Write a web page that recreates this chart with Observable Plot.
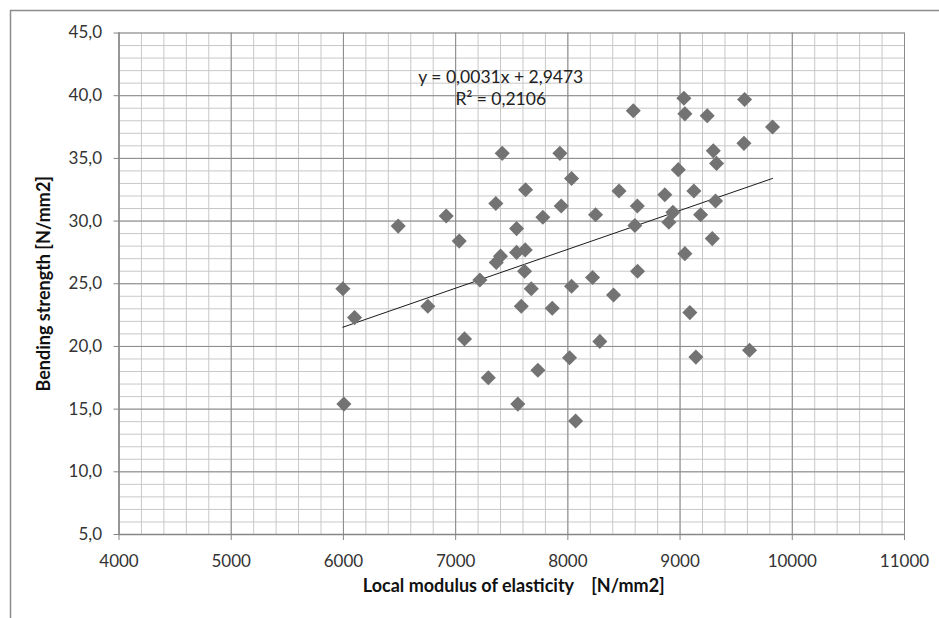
<!DOCTYPE html>
<html>
<head>
<meta charset="utf-8">
<script src="https://cdn.jsdelivr.net/npm/d3@7"></script>
<script src="https://cdn.jsdelivr.net/npm/@observablehq/plot@0.6"></script>
<style>
  html, body { margin: 0; padding: 0; background: #fff; overflow: hidden; }
</style>
</head>
<body>
<div id="chart"></div>
<script>
// Local modulus of elasticity [N/mm2]
const modulus = [
  5995, 6004, 6099, 6488, 6752, 6916, 7032, 7079, 7216, 7291,
  7358, 7362, 7400, 7415, 7543, 7543, 7554, 7585, 7620, 7614,
  7623, 7674, 7733, 7777, 7861, 7929, 7941, 8015, 8033, 8033,
  8069, 8220, 8247, 8285, 8407, 8456, 8583, 8597, 8619, 8621,
  8864, 8900, 8936, 8984, 9034, 9043, 9043, 9087, 9123, 9141,
  9183, 9242, 9287, 9296, 9316, 9325, 9569, 9575, 9619, 9824
];
// Bending strength [N/mm2]
const strength = [
  24.6, 15.4, 22.3, 29.6, 23.2, 30.4, 28.4, 20.6, 25.3, 17.5,
  31.4, 26.7, 27.2, 35.4, 29.4, 27.5, 15.4, 23.2, 27.7, 26.0,
  32.5, 24.6, 18.1, 30.3, 23.05, 35.4, 31.2, 19.1, 24.8, 33.4,
  14.05, 25.5, 30.5, 20.4, 24.1, 32.4, 38.8, 29.65, 31.2, 26.0,
  32.1, 29.9, 30.7, 34.1, 39.8, 38.55, 27.4, 22.7, 32.4, 19.15,
  30.5, 38.4, 28.6, 35.6, 31.6, 34.6, 36.2, 39.7, 19.7, 37.5
];
// Trend line (as printed on the chart)
const slope = 0.0031;
const intercept = 2.9473;
const equationLabel = "y = 0,0031x + 2,9473";
const r2Label = "R\u00b2 = 0,2106";

// Axis ticks
const xTicks = [4000, 5000, 6000, 7000, 8000, 9000, 10000, 11000];
const yTicks = [5, 10, 15, 20, 25, 30, 35, 40, 45];
const xMinor = d3.range(4000, 11001, 200);
const yMinor = d3.range(5, 45.01, 1);

const xTitle = "Local modulus of elasticity \u00a0\u00a0 [N/mm2]";
const yTitle = "Bending strength [N/mm2]";

const points = modulus.map((m, i) => ({m, s: strength[i]}));
const xr = [d3.min(modulus), d3.max(modulus)];
const trend = xr.map(x => ({m: x, s: slope * x + intercept}));

const fmtY = d => d.toFixed(1).replace(".", ",");

const chart = Plot.plot({
  width: 939,
  height: 618,
  marginLeft: 118.5,
  marginRight: 35,
  marginTop: 32.5,
  marginBottom: 84,
  style: {fontFamily: "Lato, 'Open Sans', sans-serif", fontSize: "17px", color: "#333", background: "#fff"},
  x: {domain: [4000, 11000]},
  y: {domain: [5, 45]},
  marks: [
    Plot.ruleX(xMinor, {stroke: "#c8c8c8", strokeWidth: 1}),
    Plot.ruleY(yMinor, {stroke: "#c8c8c8", strokeWidth: 1}),
    Plot.ruleX(xTicks, {stroke: "#8a8a8a", strokeWidth: 1}),
    Plot.ruleY(yTicks, {stroke: "#8a8a8a", strokeWidth: 1}),
    Plot.ruleX([4000], {stroke: "#868686", strokeWidth: 1.3}),
    Plot.ruleY([5], {stroke: "#868686", strokeWidth: 1.3}),
    Plot.axisX({ticks: xTicks, tickSize: 6, tickPadding: 14, tickFormat: d => String(d), label: null, stroke: "#868686", fill: "#333"}),
    Plot.axisY({ticks: yTicks, tickSize: 5, tickPadding: 12, tickFormat: fmtY, label: null, stroke: "#868686", fill: "#333"}),
    Plot.text([xTitle], {frameAnchor: "bottom", textAnchor: "middle", dx: 2, dy: 57, fontWeight: "bold", fontSize: 18, fill: "#111"}),
    Plot.text([yTitle], {frameAnchor: "left", textAnchor: "middle", dx: -75, rotate: -90, fontWeight: "bold", fontSize: 18, fill: "#111"}),
    Plot.line(trend, {x: "m", y: "s", stroke: "#1a1a1a", strokeWidth: 1}),
    Plot.dot(points, {x: "m", y: "s", symbol: "diamond2", r: 6.8, fill: "#737373", stroke: "none"}),
    Plot.text([equationLabel], {frameAnchor: "top", dx: -11, dy: 37.5, fontSize: 17.5, fill: "#222"}),
    Plot.text([r2Label], {frameAnchor: "top", dx: -11, dy: 60, fontSize: 17.5, fill: "#222"})
  ]
});

d3.select(chart).insert("rect", ":first-child")
  .attr("x", 10.5).attr("y", 10.5)
  .attr("width", 2000).attr("height", 2000)
  .attr("fill", "none").attr("stroke", "#8c8c8c").attr("stroke-width", 1.5);

document.getElementById("chart").appendChild(chart);
</script>
</body>
</html>
